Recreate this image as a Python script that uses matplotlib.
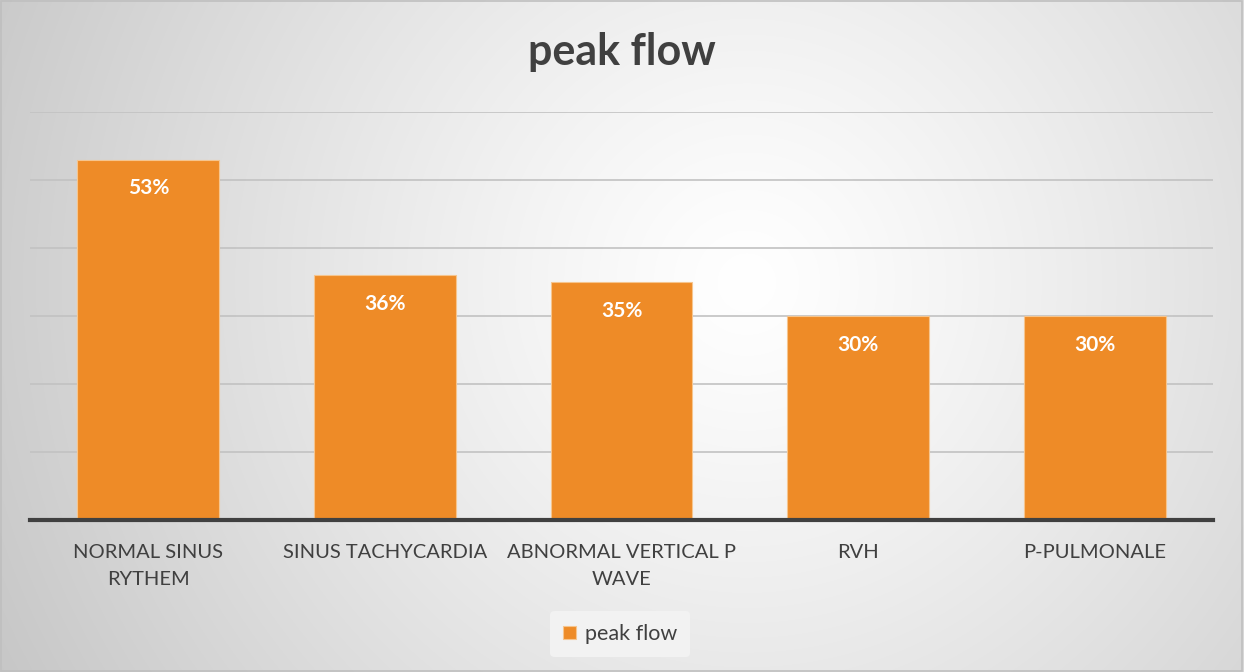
import matplotlib
matplotlib.use('Agg')
import matplotlib.pyplot as plt
import numpy as np
from matplotlib.patches import Rectangle

plt.rcParams['font.family'] = ['Lato', 'DejaVu Sans']

# Datos
categories = ['NORMAL SINUS\nRYTHEM', 'SINUS TACHYCARDIA', 'ABNORMAL VERTICAL P\nWAVE', 'RVH', 'P-PULMONALE']
values = [53, 36, 35, 30, 30]
series_name = 'peak flow'

W, H = 1244, 672
fig = plt.figure(figsize=(W / 100, H / 100), dpi=100)

# Fondo con gradiente radial (blanco al centro, gris en las esquinas)
bg = fig.add_axes([0, 0, 1, 1], zorder=-10)
yy, xx = np.mgrid[0:H, 0:W]
d = np.sqrt(((xx - 0.6 * W) / W) ** 2 + ((yy - 0.42 * H) / W) ** 2)
d = np.clip(d / 0.75, 0, 1)
shade = 1.0 - 0.25 * d ** 1.2
bg.imshow(np.dstack([shade] * 3), aspect='auto', extent=[0, 1, 0, 1])
bg.set_axis_off()
fig.patches.append(Rectangle((0.001, 0.001), 0.997, 0.997, transform=fig.transFigure,
                             fill=False, edgecolor='#bfbfbf', linewidth=1.2))

ax = fig.add_axes([30 / W, 1 - 520 / H, (1213 - 30) / W, (520 - 112) / H])
ax.patch.set_alpha(0)

x = np.arange(len(categories))
bars = ax.bar(x, values, width=0.6, color='#ee8b27', edgecolor='#f6c58e',
              linewidth=0.8, zorder=3, label=series_name)

for b, v in zip(bars, values):
    ax.text(b.get_x() + b.get_width() / 2, v - 4.2, f'{v}%', ha='center', va='center',
            color='white', fontsize=15, fontweight='bold', zorder=4)

ax.set_xlim(-0.5, len(categories) - 0.5)
ax.set_ylim(0, 60)
ax.set_yticks(np.arange(0, 61, 10))
ax.set_yticklabels([])
ax.tick_params(axis='y', length=0)
ax.tick_params(axis='x', length=0, pad=17, labelsize=14.5, labelcolor='#404040')
ax.set_xticks(x)
ax.set_xticklabels(categories, linespacing=1.75)
ax.grid(axis='y', color='#c2c2c2', linewidth=1.2, zorder=0)
for s in ['top', 'right', 'left']:
    ax.spines[s].set_visible(False)
ax.spines['bottom'].set_color('#404040')
ax.spines['bottom'].set_linewidth(3)
ax.spines['bottom'].set_zorder(5)

fig.text(0.5, 1 - 52 / H, 'peak flow', ha='center', va='center', fontsize=31,
         fontweight='bold', color='#404040')

leg = fig.legend(handles=[bars], labels=[series_name], loc='center',
                 bbox_to_anchor=(620 / W, 1 - 634 / H), frameon=True, fontsize=15.5,
                 handlelength=0.6, handleheight=0.6, handletextpad=0.4,
                 borderpad=0.6)
leg.get_frame().set_facecolor('#f2f2f2')
leg.get_frame().set_edgecolor('none')
leg.get_frame().set_alpha(1)
for t in leg.get_texts():
    t.set_color('#404040')

plt.savefig('out.png', dpi=100)
plt.close()
